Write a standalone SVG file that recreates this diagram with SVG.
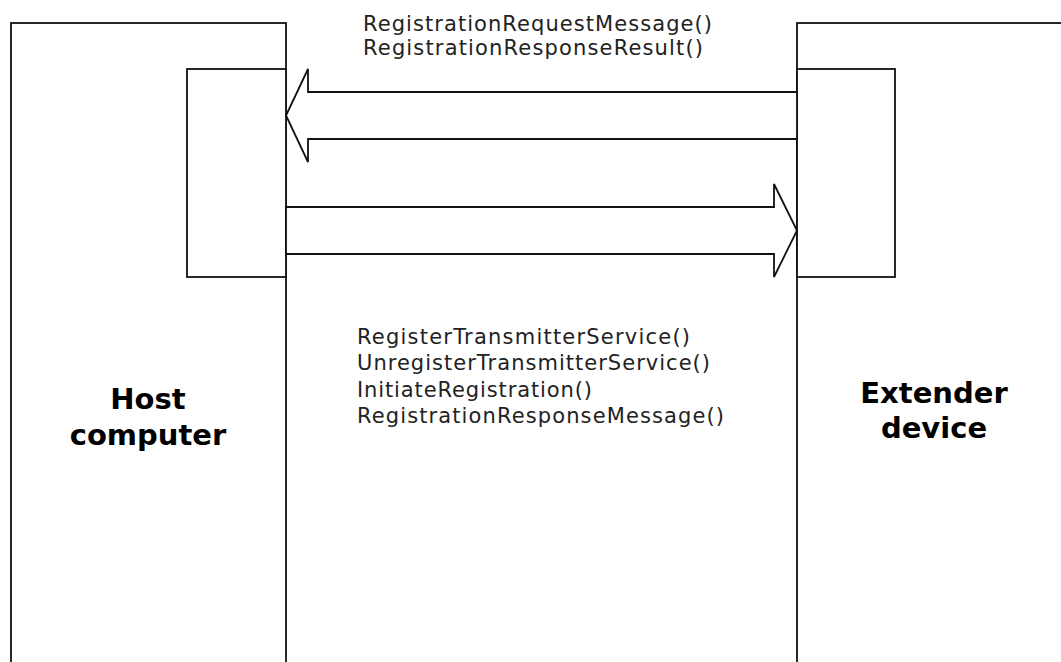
<svg xmlns="http://www.w3.org/2000/svg" width="1061" height="662" viewBox="0 0 1061 662">
  <style>
    .box { fill: #ffffff; stroke: #111111; stroke-width: 1.8; }
    .arrow { fill: #ffffff; stroke: #111111; stroke-width: 1.8; stroke-linejoin: miter; }
    .msg { font-family: "DejaVu Sans", Verdana, sans-serif; font-size: 21px; fill: #222222; }
    .title { font-family: "DejaVu Sans", Verdana, sans-serif; font-size: 29px; font-weight: bold; fill: #000000; text-anchor: middle; }
  </style>
  <rect x="0" y="0" width="1061" height="662" fill="#ffffff"/>
  <g id="host">
    <rect class="box" x="11" y="23" width="275" height="700"/>
    <rect class="box" x="187" y="69" width="99" height="208"/>
    <text class="title" x="148" y="409">Host</text>
    <text class="title" x="148" y="445">computer</text>
  </g>
  <g id="extender">
    <rect class="box" x="797" y="23" width="300" height="700"/>
    <rect class="box" x="797" y="69" width="98" height="208"/>
    <text class="title" x="934" y="403">Extender</text>
    <text class="title" x="934" y="438">device</text>
  </g>
  <g id="connectors">
    <polygon class="arrow" points="797,92 308,92 308,69 286,115.5 308,162 308,139 797,139"/>
    <polygon class="arrow" points="286,207 774,207 774,184 797,230.5 774,277 774,254 286,254"/>
  </g>
  <g id="labels">
    <text class="msg" x="363" y="31" textLength="349" lengthAdjust="spacing">RegistrationRequestMessage()</text>
    <text class="msg" x="363" y="55" textLength="340" lengthAdjust="spacing">RegistrationResponseResult()</text>
    <text class="msg" x="357" y="344" textLength="333" lengthAdjust="spacing">RegisterTransmitterService()</text>
    <text class="msg" x="357" y="370" textLength="353" lengthAdjust="spacing">UnregisterTransmitterService()</text>
    <text class="msg" x="357" y="397" textLength="235" lengthAdjust="spacing">InitiateRegistration()</text>
    <text class="msg" x="357" y="423" textLength="367" lengthAdjust="spacing">RegistrationResponseMessage()</text>
  </g>
</svg>
